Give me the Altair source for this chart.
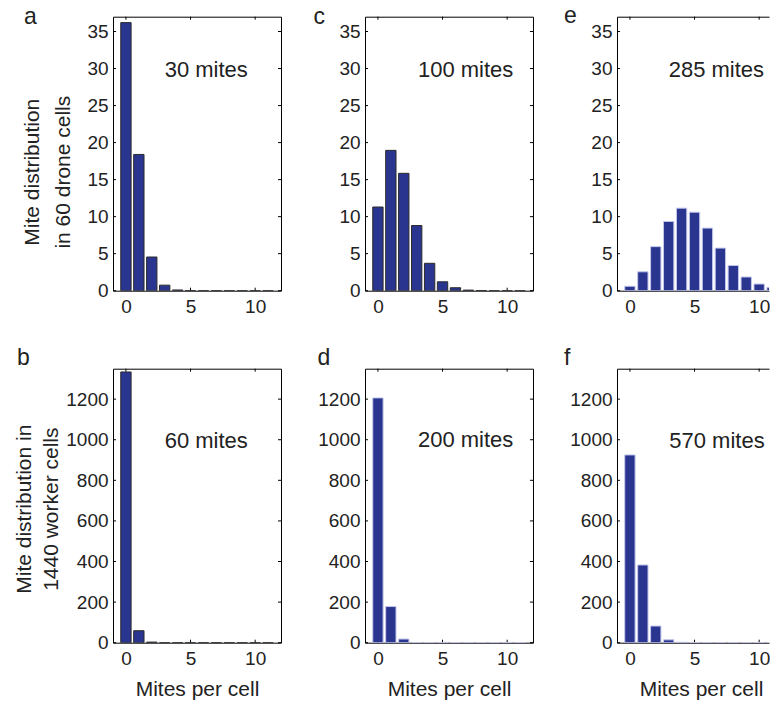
import altair as alt
import pandas as pd

# ---------------- data ----------------
mites_per_cell = list(range(12))

drone_30 = [36.2, 18.4, 4.55, 0.75, 0.1, 0.01, 0, 0, 0, 0, 0, 0]
drone_100 = [11.3, 18.95, 15.85, 8.8, 3.7, 1.2, 0.4, 0.08, 0.02, 0, 0, 0]
drone_285 = [0.6, 2.55, 5.95, 9.35, 11.15, 10.6, 8.45, 5.75, 3.4, 1.85, 0.9, 0.45]
worker_60 = [1334, 59, 3, 0.1, 0, 0, 0, 0, 0, 0, 0, 0]
worker_200 = [1206, 178, 18, 1, 0.1, 0, 0, 0, 0, 0, 0, 0]
worker_570 = [925, 383, 82, 14, 2, 0.3, 0, 0, 0, 0, 0, 0]

drone_ticks = [0, 5, 10, 15, 20, 25, 30, 35]
worker_ticks = [0, 200, 400, 600, 800, 1000, 1200]
x_ticks = [0, 5, 10]

drone_domain = [0, 37]
worker_domain = [0, 1350]
x_domain_full = [-1, 12]

panel_letters = ["a", "c", "e", "b", "d", "f"]
notes = ["30 mites", "100 mites", "285 mites", "60 mites", "200 mites", "570 mites"]
note_x = [3.0, 3.1, 3.0, 3.0, 3.1, 3.05]
note_y = [28.8, 28.8, 28.8, 961, 963, 961]

drone_title = ["Mite distribution", "in 60 drone cells"]
worker_title = ["Mite distribution in", "1440 worker cells"]
x_title = "Mites per cell"

# ---------------- style / layout ----------------
FONT = "Liberation Sans"
TXT = "#222222"
W, H = 168, 274
W_CUT = 152                      # right column is cut by the page edge
x_domain_cut = [-1, -1 + W_CUT * 13 / W]
TL = 3
FILL = "#2a3590"
EDGE_DARK = "#2b2b2b"
EDGE_LIGHT = "#c3c7ea"
ANCHOR_LEFT, ANCHOR_TOP = -110, -30   # invisible layout anchors


def panel(counts, yticks, ydom, xdom, width, letter, lx, ly, note, nx, ny,
          edge, ytitle=None, ytx=0, yty=0, ylh=0, xtitle=False, right_frame=True,
          anchor_left=False, anchor_top=False):
    xs = alt.Scale(domain=xdom, nice=False, zero=False)
    ys = alt.Scale(domain=ydom, nice=False, zero=False)
    ydf = pd.DataFrame({"t": yticks})
    xdf = pd.DataFrame({"t": x_ticks})
    tick = dict(color="black", strokeWidth=1)

    left = alt.Chart(ydf).mark_rule(**tick).encode(
        y=alt.Y("t:Q", scale=ys, axis=None), x=alt.value(0), x2=alt.value(TL))
    bottom = alt.Chart(xdf).mark_rule(**tick).encode(
        x=alt.X("t:Q", scale=xs, axis=None), y=alt.value(H), y2=alt.value(H - TL))
    top = alt.Chart(xdf).mark_rule(**tick).encode(
        x=alt.X("t:Q", scale=xs,
                axis=alt.Axis(orient="top", labels=False, ticks=False, grid=False,
                              domain=True, domainColor="black", domainWidth=1, title=None)),
        y=alt.value(0), y2=alt.value(TL))
    layers = [left, bottom, top]
    if right_frame:
        right = alt.Chart(ydf).mark_rule(**tick).encode(
            y=alt.Y("t:Q", scale=ys,
                    axis=alt.Axis(orient="right", labels=False, ticks=False, grid=False,
                                  domain=True, domainColor="black", domainWidth=1, title=None)),
            x=alt.value(width), x2=alt.value(width - TL))
        layers.append(right)

    xaxis_kw = dict(orient="bottom", values=x_ticks, format="d", ticks=False, tickSize=0,
                    grid=False, domain=True, domainColor="black", domainWidth=1,
                    labelFont=FONT, labelFontSize=19, labelColor=TXT, labelPadding=7,
                    labelFlush=False, labelOverlap=False)
    if xtitle:
        xaxis_kw.update(title=x_title, titleFont=FONT, titleFontSize=21, titleColor=TXT,
                        titleFontWeight="normal", titleBaseline="alphabetic",
                        titleAlign="center", titleX=W / 2, titleY=53)
    else:
        xaxis_kw.update(title=None)

    yaxis_kw = dict(orient="left", values=yticks, format="d", ticks=False, tickSize=0,
                    grid=False, domain=True, domainColor="black", domainWidth=1,
                    labelFont=FONT, labelFontSize=19, labelColor=TXT, labelPadding=5,
                    labelFlush=False, labelOverlap=False)
    if ytitle:
        yaxis_kw.update(title=ytitle, titleFont=FONT, titleFontSize=21, titleColor=TXT,
                        titleFontWeight="normal", titleAngle=270, titleBaseline="alphabetic",
                        titleAlign="center", titleX=ytx, titleY=yty, titleLineHeight=ylh)
    else:
        yaxis_kw.update(title=None)

    bar_df = pd.DataFrame({"m": mites_per_cell, "n": counts})
    bars = alt.Chart(bar_df).transform_calculate(
        lo="datum.m - 0.4", hi="datum.m + 0.4", base="0"
    ).mark_bar(fill=FILL, stroke=edge, strokeWidth=1, clip=True).encode(
        x=alt.X("lo:Q", scale=xs, axis=alt.Axis(**xaxis_kw)),
        x2="hi:Q",
        y=alt.Y("n:Q", scale=ys, axis=alt.Axis(**yaxis_kw)),
        y2="base:Q",
    )

    note_df = pd.DataFrame({"x": [nx], "y": [ny], "label": [note]})
    text = alt.Chart(note_df).mark_text(
        align="left", baseline="alphabetic", font=FONT, fontSize=22, color=TXT
    ).encode(
        x=alt.X("x:Q", scale=xs, axis=None),
        y=alt.Y("y:Q", scale=ys, axis=None),
        text="label:N",
    )

    letter_df = pd.DataFrame({"label": [letter]})
    letter_mark = alt.Chart(letter_df).mark_text(
        align="left", baseline="alphabetic", font=FONT, fontSize=23, color=TXT
    ).encode(x=alt.value(lx), y=alt.value(ly), text="label:N")

    extra = [letter_mark]
    if anchor_left:
        extra.append(alt.Chart(letter_df).mark_rule(opacity=0).encode(
            x=alt.value(ANCHOR_LEFT), y=alt.value(0), y2=alt.value(1)))
    if anchor_top:
        extra.append(alt.Chart(letter_df).mark_rule(opacity=0).encode(
            x=alt.value(0), x2=alt.value(1), y=alt.value(ANCHOR_TOP)))

    return alt.layer(*layers, bars, text, *extra).resolve_axis(
        x="independent", y="independent"
    ).properties(width=width, height=H)


pa = panel(drone_30, drone_ticks, drone_domain, x_domain_full, W, panel_letters[0], -89, 7.3,
           notes[0], note_x[0], note_y[0], EDGE_DARK,
           ytitle=drone_title, ytx=-75, yty=155, ylh=32, anchor_top=True)
pc = panel(drone_100, drone_ticks, drone_domain, x_domain_full, W, panel_letters[1], -51.5, 7.3,
           notes[1], note_x[1], note_y[1], EDGE_DARK)
pe = panel(drone_285, drone_ticks, drone_domain, x_domain_cut, W_CUT, panel_letters[2], -53, 6.8,
           notes[2], note_x[2], note_y[2], EDGE_LIGHT, right_frame=False)
pb = panel(worker_60, worker_ticks, worker_domain, x_domain_full, W, panel_letters[3], -96, -4,
           notes[3], note_x[3], note_y[3], EDGE_DARK,
           ytitle=worker_title, ytx=-82.6, yty=140, ylh=26.6, xtitle=True, anchor_left=True)
pd_ = panel(worker_200, worker_ticks, worker_domain, x_domain_full, W, panel_letters[4], -47.5, -4,
            notes[4], note_x[4], note_y[4], EDGE_LIGHT, xtitle=True)
pf = panel(worker_570, worker_ticks, worker_domain, x_domain_cut, W_CUT, panel_letters[5], -53, -4,
           notes[5], note_x[5], note_y[5], EDGE_LIGHT, xtitle=True, right_frame=False)

chart = alt.concat(
    pa, pc, pe, pb, pd_, pf,
    columns=3,
    spacing={"row": 78, "column": 84},
    bounds="flush",
).properties(
    padding={"left": 105.0 + ANCHOR_LEFT, "top": 8.7 + ANCHOR_TOP, "right": 0, "bottom": 0},
).configure_view(stroke=None)

chart.save("out.html", embed_options={"renderer": "svg", "actions": False})
